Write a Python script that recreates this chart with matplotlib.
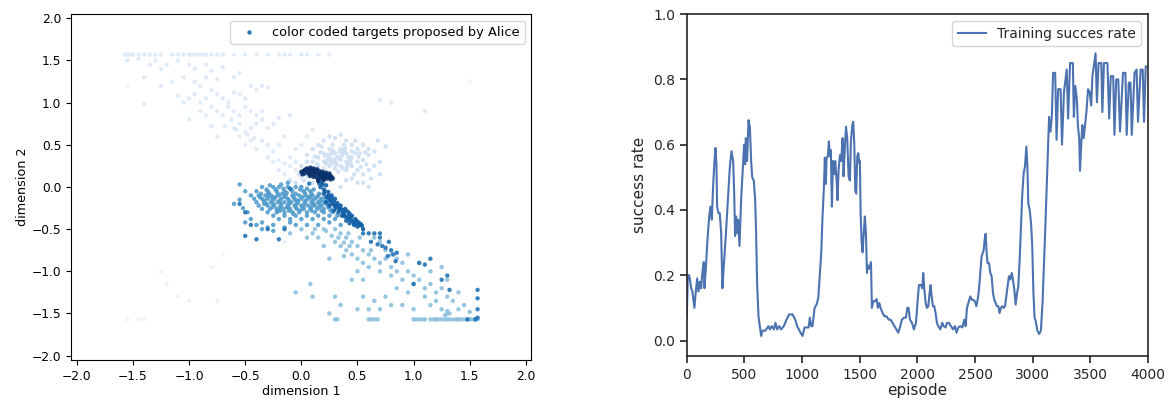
import numpy as np
import matplotlib
matplotlib.use("Agg")
import matplotlib.pyplot as plt

# ---- left panel: goals proposed by Alice, grouped by how early they were proposed
# very early (almost white)
faint_x = [-1.25, -1.0, -0.75, -0.4, -0.15, -0.8, -1.1, -1.55, -1.45, -1.4, -0.7, -1.2, -1.55, 1.5]
faint_y = [-1.0, -1.35, -1.35, -0.45, -0.65, -0.95, -1.3, -1.57, -1.57, -1.57, -0.8, -1.15, 1.2, 1.25]

early_x = [-1.57, -1.55, -1.53, -1.5, -1.45, -1.4, -1.35, -1.3, -1.25, -1.15, -1.1, -1.05, -1.0, -0.97,
           -0.93, -0.9, -0.87, -0.85, -0.8, -0.75, -0.7, -0.6, -0.5, -0.4, -0.3, -0.2, -0.15, -0.1, 0.0,
           0.05, 0.15, 0.25,
           -1.55, -1.45, -1.35, -1.3, -1.25, -1.2, -1.1, -1.0, -0.95, -0.85, -0.8, -0.7, -1.4, -1.25,
           -1.15, -1.05, -0.95, -0.9, -0.85, -0.75, -0.6, -0.55, -1.1, -1.05, -1.0, -0.95, -0.9, -0.85,
           -0.8, -0.75, -0.7, -0.65, -0.6, -0.55, -0.5, -0.45, -0.4, -0.35, -0.3, -0.9, -0.85, -0.8,
           -0.75, -0.7, -0.65, -0.6, -0.55, -0.5, -0.45, -0.4, -0.35, -0.55, -0.6, -0.55, -0.5, -0.45,
           -0.4, -0.35, -0.3, -0.25, -0.2, -0.1, -0.5, -0.45, -0.4, -0.35, -0.3, -0.25, -0.2, -0.15,
           -0.3, -0.25, -0.2, -0.15, -0.1, -0.1, -0.05, -0.05, 0.0, 0.05, -0.05, 0.0, -0.15, -0.2, 0.1,
           -0.8, -1.0, 0.7, 0.8, 1.1, -1.4, -0.75, -0.62, -0.68, -0.58, -0.48, -0.42]
early_y = [1.57, 1.57, 1.57, 1.57, 1.57, 1.57, 1.57, 1.57, 1.57, 1.57, 1.57, 1.57, 1.57, 1.57,
           1.57, 1.57, 1.57, 1.57, 1.57, 1.57, 1.57, 1.57, 1.57, 1.57, 1.57, 1.57, 1.57, 1.57, 1.57,
           1.57, 1.57, 1.57,
           1.5, 1.52, 1.45, 1.5, 1.4, 1.45, 1.5, 1.45, 1.4, 1.45, 1.38, 1.42, 1.3, 1.2,
           1.25, 1.3, 1.25, 1.2, 1.3, 1.28, 1.3, 1.35, 1.08, 1.0, 1.05, 1.1, 1.0, 1.05,
           1.15, 1.1, 1.05, 1.0, 1.12, 1.1, 1.05, 1.2, 1.15, 1.2, 1.18, 0.9, 0.85, 0.95,
           0.9, 0.85, 0.95, 0.9, 0.85, 0.95, 0.9, 0.85, 0.9, 0.75, 0.7, 0.6, 0.65, 0.7,
           0.75, 0.8, 0.7, 0.75, 0.82, 0.85, 0.5, 0.55, 0.45, 0.55, 0.5, 0.42, 0.5, 0.6,
           0.35, 0.3, 0.32, 0.28, 0.35, 0.25, 0.3, 0.45, 0.5, 0.6, 0.2, 0.12, 0.15, 0.2, 0.68,
           0.72, 0.8, 1.03, 1.0, 0.9, 0.98, 0.6, 0.8, 0.72, 0.68, 0.62, 0.58]

cloud_x = [0.1, 0.15, 0.2, 0.25, 0.3, 0.35, 0.4, 0.45, 0.2, 0.25, 0.3, 0.35, 0.4, 0.45, 0.5, 0.55, 0.6,
           0.15, 0.2, 0.25, 0.3, 0.35, 0.4, 0.45, 0.5, 0.55, 0.6, 0.65, 0.3, 0.35, 0.4, 0.45, 0.5, 0.55,
           0.6, 0.65, 0.7, 0.7, 0.25, 0.2, 0.05, 0.0, 0.05, 0.45, 0.5, 0.4, 0.55, 0.6, 0.35, 0.28, 0.38,
           0.32, 0.42, 0.22, 0.18, 0.48, 0.75, 0.68, 0.15, 0.1, 0.08, 0.52, 0.58, 0.27, 0.37, 0.33, 0.47,
           0.62, 0.1, 0.0, -0.05, -0.1, 0.36, 0.41, 0.29, 0.24, 0.44, 0.53, 0.34, 0.39, 0.31, 0.26,
           0.23, 0.33, 0.43, 0.28, 0.38, 0.48, 0.21, 0.31, 0.41, 0.51, 0.17, 0.27, 0.37, 0.57, 0.12,
           0.02, -0.02, 0.06, 0.14]
cloud_y = [0.45, 0.5, 0.55, 0.6, 0.58, 0.62, 0.55, 0.5, 0.4, 0.45, 0.4, 0.45, 0.4, 0.42, 0.45, 0.5, 0.45,
           0.35, 0.3, 0.35, 0.3, 0.32, 0.3, 0.35, 0.3, 0.32, 0.38, 0.42, 0.22, 0.25, 0.2, 0.25, 0.2, 0.15,
           0.2, 0.25, 0.3, 0.15, 0.25, 0.22, 0.3, 0.25, 0.38, 0.1, 0.05, 0.08, 0.05, 0.0, 0.0, 0.5, 0.5,
           0.36, 0.36, 0.28, 0.48, 0.55, 0.48, 0.55, 0.25, 0.3, 0.2, 0.4, 0.27, 0.4, 0.4, 0.18, 0.15,
           0.1, 0.05, 0.0, 0.05, 0.08, 0.37, 0.27, 0.33, 0.38, 0.29, 0.24, 0.42, 0.46, 0.26, 0.31,
           0.32, 0.34, 0.32, 0.43, 0.43, 0.4, 0.37, 0.28, 0.24, 0.36, 0.41, 0.28, 0.22, 0.41, 0.36,
           0.08, 0.15, 0.12, 0.27]

spread_x = [0.3, 0.32, 0.6, 0.62, 0.65, 0.68, 1.0, 1.02, 1.05, 1.08, 1.1, 1.15, 1.18, 1.2, 1.22, 1.25,
            1.28, 1.3, 1.32, 1.35, 1.38, 1.4, 1.42, 1.45, 1.48, 1.5, 1.52, 1.55, 1.57,
            0.3, 0.35, 0.4, 0.3, 0.35, 0.45, 0.5, 0.4, 0.45, 0.55, 0.6, 0.5, 0.55, 0.65, 0.7, 0.75,
            0.6, 0.7, 0.8, 0.85, 0.9, 0.95, 1.0, 0.8, 0.9, 1.0, 1.05, 1.1, 1.15, 1.2, 1.25, 1.3, 1.35,
            1.2, 1.1, 0.95, 0.85, 0.75, 0.65, 0.55, 0.5, 0.6, 0.7, 0.8, 0.9, 1.0, 1.15, 1.25, 1.3, 1.4,
            1.45, 1.5, 0.55, 0.5, 0.45, 0.3, 0.35, 0.25, 0.2, 0.15, 0.1, 0.05, -0.1, 0.0, 0.2, 0.65,
            0.7, 0.75, 0.8, 0.85, 1.05, 1.15, 1.3, 1.4, 0.62, 0.52, 0.42, 0.38, 0.95, 1.25, 0.25, 0.08,
            0.1, -0.05, 1.32, 1.3, 1.28, 0.33, 0.43, 0.38, 0.27, 0.22, 0.12]
spread_y = [-1.57, -1.57, -1.57, -1.57, -1.57, -1.57, -1.57, -1.57, -1.57, -1.57, -1.57, -1.57, -1.57,
            -1.57, -1.57, -1.57, -1.57, -1.57, -1.57, -1.57, -1.57, -1.57, -1.57, -1.57, -1.57, -1.57,
            -1.57, -1.57, -1.57,
            -0.5, -0.55, -0.6, -0.65, -0.7, -0.65, -0.7, -0.75, -0.8, -0.75, -0.8, -0.85, -0.9, -0.85,
            -0.9, -0.85, -0.95, -1.0, -0.95, -1.0, -0.9, -1.0, -1.05, -1.05, -1.1, -1.15, -1.1, -1.2,
            -1.15, -1.25, -1.2, -1.3, -1.35, -1.35, -1.3, -1.25, -1.2, -1.3, -1.35, -1.3, -1.45, -1.45,
            -1.45, -1.4, -1.4, -1.45, -1.4, -1.45, -1.5, -1.45, -1.4, -1.48, -1.1, -1.0, -1.1, -1.3,
            -1.4, -0.85, -0.7, -0.6, -0.55, -0.6, -0.55, -0.5, -0.5, -0.6, -0.65, -0.75, -0.8, -0.85,
            -0.9, -1.0, -1.1, -1.25, -0.75, -0.6, -0.55, -0.82, -0.8, -0.95, -1.5, -1.15, -1.3, -1.25,
            -1.5, -1.47, -1.52, -0.6, -0.7, -0.66, -0.58, -0.52, -0.5]

blob_x = [-0.35, -0.25, -0.2, -0.12, -0.05, 0.0,
          -0.4, -0.3, -0.22, -0.15, -0.08, 0.02, 0.08,
          -0.45, -0.38, -0.32, -0.27, -0.2, -0.14, -0.08, -0.02, 0.04, 0.1, 0.15,
          -0.42, -0.35, -0.3, -0.24, -0.18, -0.12, -0.06, 0.0, 0.06, 0.12, 0.18, 0.22,
          -0.4, -0.33, -0.27, -0.21, -0.15, -0.09, -0.03, 0.03, 0.09, 0.15, 0.2, 0.25,
          -0.38, -0.3, -0.24, -0.18, -0.12, -0.06, 0.0, 0.06, 0.12, 0.18, 0.24, 0.3,
          -0.35, -0.28, -0.22, -0.16, -0.1, -0.04, 0.02, 0.08, 0.14, 0.2, 0.26,
          -0.3, -0.22, -0.15, -0.08, -0.02, 0.05, 0.12, 0.2, 0.28,
          -0.25, -0.15, -0.05, 0.05, 0.15, 0.25, 0.32,
          -0.2, -0.1, 0.0, 0.1, 0.2, 0.3,
          -0.5, -0.55, -0.52, -0.48, -0.45, -0.4, -0.35, -0.3, -0.25, -0.15, -0.05, 0.05, -0.6, -0.5,
          -0.35, -0.25, -0.1, 0.15, 0.25, 0.35, -0.28, -0.18, -0.12, -0.55,
          -0.17, -0.11, -0.26, -0.05, 0.01, -0.33, -0.19, -0.07, 0.07, -0.29, -0.13, 0.11,
          -0.31, -0.23, -0.16, -0.09, -0.01, 0.05, 0.11,
          -0.36, -0.29, -0.21, -0.13, -0.05, 0.03, 0.09, 0.16,
          -0.37, -0.3, -0.23, -0.15, -0.07, 0.01, 0.08, 0.14, 0.21,
          -0.33, -0.26, -0.19, -0.11, -0.03, 0.04, 0.1, 0.17, 0.23,
          -0.31, -0.25, -0.18, -0.11, -0.04, 0.03, 0.1, 0.16, 0.22, 0.27,
          -0.26, -0.19, -0.12, -0.05, 0.02, 0.09, 0.16, 0.24,
          -0.21, -0.11, -0.01, 0.09, 0.18, 0.26]
blob_y = [0.0, 0.0, 0.0, 0.0, 0.0, 0.0,
          -0.05, -0.05, -0.05, -0.05, -0.05, -0.05, -0.05,
          -0.1, -0.1, -0.1, -0.1, -0.1, -0.1, -0.1, -0.1, -0.1, -0.1, -0.1,
          -0.14, -0.14, -0.14, -0.14, -0.14, -0.14, -0.14, -0.14, -0.14, -0.14, -0.14, -0.14,
          -0.18, -0.18, -0.18, -0.18, -0.18, -0.18, -0.18, -0.18, -0.18, -0.18, -0.18, -0.18,
          -0.22, -0.22, -0.22, -0.22, -0.22, -0.22, -0.22, -0.22, -0.22, -0.22, -0.22, -0.22,
          -0.26, -0.26, -0.26, -0.26, -0.26, -0.26, -0.26, -0.26, -0.26, -0.26, -0.26,
          -0.3, -0.3, -0.3, -0.3, -0.3, -0.3, -0.3, -0.3, -0.3,
          -0.34, -0.34, -0.34, -0.34, -0.34, -0.34, -0.34,
          -0.38, -0.38, -0.38, -0.38, -0.38, -0.38,
          -0.05, -0.15, -0.25, -0.3, -0.38, -0.45, -0.5, -0.48, -0.45, -0.48, -0.45, -0.45, -0.2, -0.42,
          -0.42, -0.52, -0.42, -0.45, -0.42, -0.45, 0.02, 0.03, 0.05, 0.03,
          -0.08, -0.2, -0.12, -0.16, -0.24, -0.2, -0.28, -0.32, -0.12, -0.08, -0.24, -0.2,
          -0.03, -0.03, -0.02, -0.03, -0.03, -0.02, -0.03,
          -0.08, -0.07, -0.08, -0.07, -0.08, -0.07, -0.08, -0.08,
          -0.12, -0.12, -0.12, -0.12, -0.12, -0.12, -0.12, -0.12, -0.12,
          -0.16, -0.16, -0.16, -0.16, -0.16, -0.16, -0.16, -0.16, -0.16,
          -0.2, -0.2, -0.2, -0.2, -0.2, -0.2, -0.2, -0.2, -0.2, -0.2,
          -0.24, -0.24, -0.24, -0.24, -0.24, -0.24, -0.24, -0.24,
          -0.28, -0.28, -0.28, -0.28, -0.28, -0.28]

stripe_x = [0.15, 0.18, 0.2, 0.17, 0.2, 0.22, 0.2, 0.24, 0.23, 0.27, 0.26, 0.3, 0.28, 0.32, 0.35, 0.31,
            0.36, 0.39, 0.38, 0.42, 0.41, 0.45, 0.44, 0.48, 0.47, 0.51, 0.5, 0.54, 0.55, 0.33, 0.36,
            0.4, 0.25, 0.22, 0.29, 0.34, 0.43, 0.46, 0.52,
            0.19, 0.21, 0.25, 0.29, 0.33, 0.37, 0.4, 0.44, 0.49, 0.53, 0.3, 0.34, 0.38, 0.42, 0.47,
            0.16, 0.24, 0.27, 0.31, 0.35, 0.39, 0.43, 0.5]
stripe_y = [0.08, 0.05, 0.1, 0.0, -0.03, 0.02, -0.08, -0.06, -0.12, -0.1, -0.16, -0.14, -0.2, -0.19,
            -0.22, -0.25, -0.27, -0.26, -0.31, -0.3, -0.35, -0.34, -0.39, -0.38, -0.43, -0.42, -0.47,
            -0.46, -0.5, -0.3, -0.34, -0.4, -0.22, -0.18, -0.28, -0.24, -0.32, -0.41, -0.45,
            0.03, -0.05, -0.14, -0.17, -0.22, -0.3, -0.28, -0.36, -0.4, -0.44, -0.23, -0.27, -0.34,
            -0.38, -0.45, 0.04, -0.1, -0.13, -0.22, -0.26, -0.35, -0.43, -0.44]

late_x = [0.6, 0.65, 0.7, 0.62, 0.68, 0.72, 0.75, 0.78, 0.8, 0.77, 0.82, 0.85, 0.84, 0.7, 0.55, 1.05,
          1.1, 1.15, 1.3, 1.25, 1.32, 1.57, 1.57, 1.57, 1.57, 1.55, 1.48, 1.0, -0.55, -0.5, -0.4, -0.2,
          -0.15, -0.5, -0.45, -0.3, 0.07, -0.1]
late_y = [-0.55, -0.55, -0.6, -0.65, -0.68, -0.7, -0.72, -0.65, -0.75, -0.82, -0.8, -0.78, -0.88,
          -0.55, -0.55, -0.9, -0.92, -0.85, -1.05, -1.1, -1.22, -1.22, -1.32, -1.45, -1.55, -1.57,
          -1.57, -1.15, -0.2, -0.58, -0.62, -0.62, -0.5, -0.3, -0.45, -0.5, 0.04, -0.02]

core_x = [0.0, 0.03, 0.05, 0.08, 0.11, 0.14, 0.03, 0.06, 0.09, 0.12, 0.15, 0.18, 0.21, 0.24, 0.27,
          0.08, 0.11, 0.14, 0.17, 0.2, 0.23, 0.26, 0.06, 0.1, 0.13, 0.16, 0.19, 0.22, 0.25, 0.17, 0.2,
          0.15, 0.02, 0.07, 0.12, 0.19, 0.24, 0.01, 0.04, 0.09, 0.13, 0.18, 0.22, 0.26, 0.1, 0.16,
          0.21, 0.28]
core_y = [0.18, 0.2, 0.22, 0.23, 0.22, 0.21, 0.16, 0.17, 0.18, 0.17, 0.16, 0.15, 0.14, 0.13, 0.12,
          0.13, 0.12, 0.11, 0.1, 0.11, 0.1, 0.09, 0.2, 0.2, 0.19, 0.19, 0.18, 0.17, 0.16, 0.13, 0.08,
          0.07, 0.19, 0.15, 0.14, 0.12, 0.11, 0.15, 0.21, 0.21, 0.2, 0.17, 0.15, 0.13, 0.15, 0.14,
          0.12, 0.1]

# shade of the Blues map for each group (proposal order)
group_shade = [0.06, 0.13, 0.22, 0.42, 0.58, 0.82, 0.74, 1.0]

# ---- right panel: training success rate
episode = [0, 9, 20, 26, 38, 49, 66, 78, 90, 101, 113, 124, 136, 147, 153, 165, 176, 194, 205, 217, 228,
           240, 249, 257, 263, 275, 286, 298, 309, 321, 338, 356, 373, 388, 402, 411, 419, 428, 437, 445,
           457, 471, 486, 497, 506, 512, 523, 535, 547, 558, 567, 581, 593, 601, 610, 622, 633, 645, 656,
           680, 708, 720, 737, 755, 769, 784, 801, 818, 841, 865, 888, 917, 940, 957, 986, 1004, 1021,
           1056, 1067, 1079, 1090, 1108, 1125, 1140, 1154, 1166, 1177, 1189, 1197, 1206, 1212, 1223,
           1232, 1241, 1249, 1258, 1267, 1278, 1287, 1299, 1307, 1316, 1328, 1339, 1351, 1359, 1368,
           1380, 1391, 1403, 1414, 1423, 1435, 1443, 1452, 1461, 1469, 1478, 1487, 1495, 1501, 1507,
           1516, 1524, 1536, 1544, 1553, 1562, 1570, 1582, 1597, 1605, 1617, 1631, 1646, 1657, 1669,
           1680, 1698, 1715, 1732, 1750, 1767, 1784, 1802, 1819, 1834, 1848, 1865, 1883, 1900, 1912,
           1923, 1935, 1952, 1969, 1987, 2001, 2013, 2030, 2042, 2050, 2059, 2071, 2082, 2094, 2105,
           2114, 2123, 2134, 2146, 2157, 2169, 2180, 2198, 2215, 2227, 2244, 2256, 2273, 2290, 2308,
           2325, 2339, 2354, 2371, 2389, 2406, 2418, 2429, 2441, 2458, 2470, 2481, 2499, 2510, 2522,
           2533, 2545, 2556, 2565, 2574, 2582, 2591, 2600, 2608, 2620, 2632, 2643, 2655, 2666, 2678,
           2689, 2701, 2712, 2724, 2736, 2747, 2759, 2770, 2782, 2793, 2805, 2817, 2828, 2840, 2851,
           2863, 2874, 2886, 2898, 2909, 2921, 2932, 2944, 2953, 2961, 2973, 2985, 2995, 3005, 3015,
           3025, 3040, 3055, 3070, 3085, 3110, 3132, 3141, 3153, 3165, 3176, 3194, 3206, 3220, 3241,
           3253, 3270, 3294, 3306, 3323, 3347, 3356, 3368, 3382, 3391, 3403, 3409, 3417, 3429, 3441,
           3453, 3465, 3479, 3494, 3506, 3517, 3529, 3544, 3556, 3570, 3594, 3603, 3617, 3647, 3662,
           3676, 3697, 3708, 3723, 3741, 3756, 3782, 3803, 3814, 3832, 3847, 3858, 3882, 3900, 3912,
           3935, 3953, 3964, 3979, 4000]
success = [0.07, 0.2, 0.2, 0.19, 0.16, 0.15, 0.1, 0.15, 0.19, 0.15, 0.18, 0.16, 0.21, 0.24, 0.16, 0.22,
           0.29, 0.38, 0.41, 0.37, 0.47, 0.55, 0.59, 0.54, 0.41, 0.39, 0.39, 0.33, 0.16, 0.23, 0.32,
           0.43, 0.53, 0.58, 0.55, 0.45, 0.32, 0.38, 0.33, 0.37, 0.29, 0.43, 0.53, 0.6, 0.54, 0.62,
           0.55, 0.675, 0.655, 0.55, 0.5, 0.49, 0.43, 0.33, 0.17, 0.074, 0.044, 0.014, 0.03, 0.03,
           0.044, 0.034, 0.044, 0.034, 0.054, 0.034, 0.044, 0.034, 0.044, 0.064, 0.08, 0.08, 0.064,
           0.044, 0.024, 0.014, 0.04, 0.04, 0.07, 0.044, 0.044, 0.1, 0.11, 0.13, 0.207, 0.27, 0.38,
           0.47, 0.56, 0.48, 0.56, 0.564, 0.61, 0.564, 0.584, 0.41, 0.55, 0.51, 0.55, 0.49, 0.43,
           0.523, 0.568, 0.55, 0.62, 0.503, 0.574, 0.655, 0.62, 0.503, 0.49, 0.61, 0.66, 0.67, 0.605,
           0.46, 0.45, 0.564, 0.574, 0.544, 0.55, 0.39, 0.3, 0.27, 0.34, 0.38, 0.33, 0.207, 0.23, 0.22,
           0.24, 0.1, 0.12, 0.12, 0.127, 0.1, 0.115, 0.1, 0.084, 0.074, 0.074, 0.064, 0.064, 0.054,
           0.044, 0.034, 0.024, 0.04, 0.064, 0.07, 0.07, 0.1, 0.1, 0.064, 0.054, 0.034, 0.054, 0.12,
           0.17, 0.17, 0.16, 0.207, 0.16, 0.115, 0.1, 0.105, 0.145, 0.17, 0.135, 0.105, 0.105, 0.084,
           0.054, 0.044, 0.034, 0.054, 0.044, 0.04, 0.054, 0.054, 0.044, 0.034, 0.044, 0.024, 0.04,
           0.044, 0.04, 0.064, 0.044, 0.1, 0.115, 0.135, 0.125, 0.125, 0.12, 0.105, 0.125, 0.155,
           0.207, 0.257, 0.267, 0.277, 0.307, 0.327, 0.267, 0.237, 0.237, 0.207, 0.197, 0.145, 0.125,
           0.115, 0.105, 0.105, 0.084, 0.1, 0.105, 0.1, 0.105, 0.135, 0.17, 0.197, 0.187, 0.207,
           0.187, 0.155, 0.11, 0.145, 0.165, 0.247, 0.35, 0.45, 0.513, 0.533, 0.594, 0.533, 0.42, 0.4,
           0.36, 0.29, 0.15, 0.07, 0.06, 0.03, 0.02, 0.03, 0.12, 0.36, 0.59, 0.685, 0.64, 0.685, 0.82,
           0.82, 0.615, 0.77, 0.77, 0.6, 0.76, 0.83, 0.68, 0.85, 0.85, 0.685, 0.78, 0.74, 0.66, 0.615,
           0.52, 0.58, 0.66, 0.62, 0.66, 0.7, 0.77, 0.76, 0.72, 0.81, 0.84, 0.88, 0.73, 0.85, 0.85,
           0.7, 0.85, 0.85, 0.68, 0.81, 0.81, 0.63, 0.8, 0.8, 0.64, 0.82, 0.82, 0.63, 0.79, 0.79, 0.63,
           0.82, 0.83, 0.67, 0.83, 0.83, 0.67, 0.84, 0.84]

fig = plt.figure(figsize=(11.68, 4.03), dpi=100)

# ---------- left
ax1 = fig.add_axes([0.061, 0.107, 0.394, 0.858])
groups = [(faint_x, faint_y), (early_x, early_y), (cloud_x, cloud_y), (spread_x, spread_y),
          (blob_x, blob_y), (stripe_x, stripe_y), (late_x, late_y), (core_x, core_y)]
xs, ys, cs = [], [], []
for (gx, gy), shade in zip(groups, group_shade):
    xs += gx
    ys += gy
    cs += [shade] * len(gx)
sc = ax1.scatter(xs, ys, c=cs, cmap="Blues", vmin=0, vmax=1, s=10, alpha=0.9,
                 linewidths=0, label="color coded targets proposed by Alice")
ax1.set_xlim(-2.05, 2.05)
ax1.set_ylim(-2.05, 2.05)
ax1.set_xticks(np.arange(-2.0, 2.01, 0.5))
ax1.set_yticks(np.arange(-2.0, 2.01, 0.5))
ax1.tick_params(labelsize=8.8)
ax1.set_xlabel("dimension 1", fontsize=9.2, labelpad=2)
ax1.set_ylabel("dimension 2", fontsize=9.2, labelpad=2)
leg1 = ax1.legend(loc="upper right", fontsize=9.4)
h = leg1.legend_handles[0]
h.set_array(None)
h.set_facecolor("#2878b8")
h.set_alpha(1)

# ---------- right
ax2 = fig.add_axes([0.588, 0.117, 0.395, 0.848])
ax2.plot(episode, success, color="#4c72b0", lw=1.5, label="Training succes rate")
ax2.set_xlim(0, 4000)
ax2.set_ylim(-0.047, 1.0)
ax2.set_xticks(np.arange(0, 4001, 500))
ax2.set_yticks(np.arange(0, 1.01, 0.2))
for s in ax2.spines.values():
    s.set_color("#262626")
    s.set_linewidth(1.2)
ax2.tick_params(labelsize=10, colors="#262626", length=5, width=1.2)
ax2.set_xlabel("episode", fontsize=11, color="#262626", labelpad=1)
ax2.set_ylabel("success rate", fontsize=11, color="#262626", labelpad=4)
leg2 = ax2.legend(loc="upper right", fontsize=10)
for t in leg2.get_texts():
    t.set_color("#262626")

fig.savefig("out.png", dpi=100)
